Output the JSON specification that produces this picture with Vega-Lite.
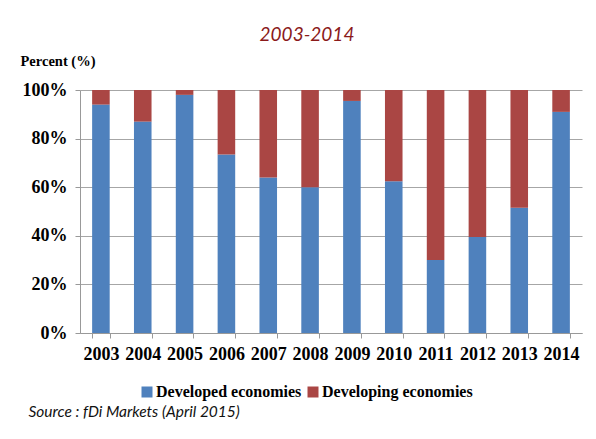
{
  "$schema": "https://vega.github.io/schema/vega-lite/v6.json",
  "width": 502,
  "height": 243,
  "autosize": "none",
  "padding": {"left": 80, "top": 90, "right": 14, "bottom": 106},
  "background": "white",
  "title": {
    "text": "2003-2014",
    "font": "Lato",
    "fontStyle": "italic",
    "fontWeight": "normal",
    "fontSize": 19,
    "color": "#8b1a1a",
    "anchor": "middle",
    "dx": -24,
    "offset": 8
  },
  "data": {
    "values": [
      {"year": "2003", "group": "Developed economies", "value": 94},
      {"year": "2004", "group": "Developed economies", "value": 87},
      {"year": "2005", "group": "Developed economies", "value": 98},
      {"year": "2006", "group": "Developed economies", "value": 73.5},
      {"year": "2007", "group": "Developed economies", "value": 64},
      {"year": "2008", "group": "Developed economies", "value": 60},
      {"year": "2009", "group": "Developed economies", "value": 95.5},
      {"year": "2010", "group": "Developed economies", "value": 62.5},
      {"year": "2011", "group": "Developed economies", "value": 30},
      {"year": "2012", "group": "Developed economies", "value": 39.5},
      {"year": "2013", "group": "Developed economies", "value": 51.5},
      {"year": "2014", "group": "Developed economies", "value": 91},
      {"year": "2003", "group": "Developing economies", "value": 6},
      {"year": "2004", "group": "Developing economies", "value": 13},
      {"year": "2005", "group": "Developing economies", "value": 2},
      {"year": "2006", "group": "Developing economies", "value": 26.5},
      {"year": "2007", "group": "Developing economies", "value": 36},
      {"year": "2008", "group": "Developing economies", "value": 40},
      {"year": "2009", "group": "Developing economies", "value": 4.5},
      {"year": "2010", "group": "Developing economies", "value": 37.5},
      {"year": "2011", "group": "Developing economies", "value": 70},
      {"year": "2012", "group": "Developing economies", "value": 60.5},
      {"year": "2013", "group": "Developing economies", "value": 48.5},
      {"year": "2014", "group": "Developing economies", "value": 9}
    ]
  },
  "mark": {"type": "bar"},
  "encoding": {
    "x": {
      "field": "year",
      "type": "nominal",
      "scale": {"paddingInner": 0.58, "paddingOuter": 0.29},
      "axis": {
        "title": "Source : fDi Markets (April 2015)",
        "titleFont": "Lato",
        "titleFontStyle": "italic",
        "titleFontWeight": "normal",
        "titleFontSize": 15.5,
        "titleColor": "#111111",
        "titleAnchor": "start",
        "titleAlign": "left",
        "titleBaseline": "alphabetic",
        "titleX": -52,
        "titleY": 83,
        "labelAngle": 0,
        "labelFont": "Liberation Serif",
        "labelFontWeight": "bold",
        "labelFontSize": 18,
        "labelColor": "#000000",
        "labelPadding": 7,
        "tickBand": "extent",
        "tickSize": 5,
        "tickColor": "#999999",
        "domainColor": "#999999",
        "grid": false
      }
    },
    "y": {
      "field": "value",
      "type": "quantitative",
      "stack": "zero",
      "scale": {"domain": [0, 100]},
      "axis": {
        "values": [0, 20, 40, 60, 80, 100],
        "labelExpr": "datum.value + '%'",
        "labelFont": "Liberation Serif",
        "labelFontWeight": "bold",
        "labelFontSize": 18,
        "labelColor": "#000000",
        "labelPadding": 8,
        "tickSize": 5,
        "tickColor": "#999999",
        "domainColor": "#999999",
        "gridColor": "#a6a6a6",
        "title": "Percent (%)",
        "titleFont": "Liberation Serif",
        "titleFontWeight": "bold",
        "titleFontSize": 14.5,
        "titleColor": "#000000",
        "titleAngle": 0,
        "titleAlign": "left",
        "titleBaseline": "alphabetic",
        "titleX": -60,
        "titleY": -25
      }
    },
    "order": {"field": "group", "sort": "ascending"},
    "color": {
      "field": "group",
      "type": "nominal",
      "scale": {
        "domain": ["Developed economies", "Developing economies"],
        "range": ["#4f81bd", "#aa4644"]
      },
      "legend": {
        "orient": "none",
        "direction": "horizontal",
        "legendX": 59,
        "legendY": 294,
        "title": null,
        "symbolType": "square",
        "symbolSize": 121,
        "symbolStrokeWidth": 0,
        "labelFont": "Liberation Serif",
        "labelFontWeight": "bold",
        "labelFontSize": 16,
        "labelColor": "#000000",
        "labelOffset": 1,
        "labelLimit": 300,
        "columnPadding": 3
      }
    }
  },
  "config": {
    "font": "Liberation Serif",
    "view": {"stroke": null},
    "legend": {"labelFont": "Liberation Serif", "labelFontWeight": "bold"}
  }
}
